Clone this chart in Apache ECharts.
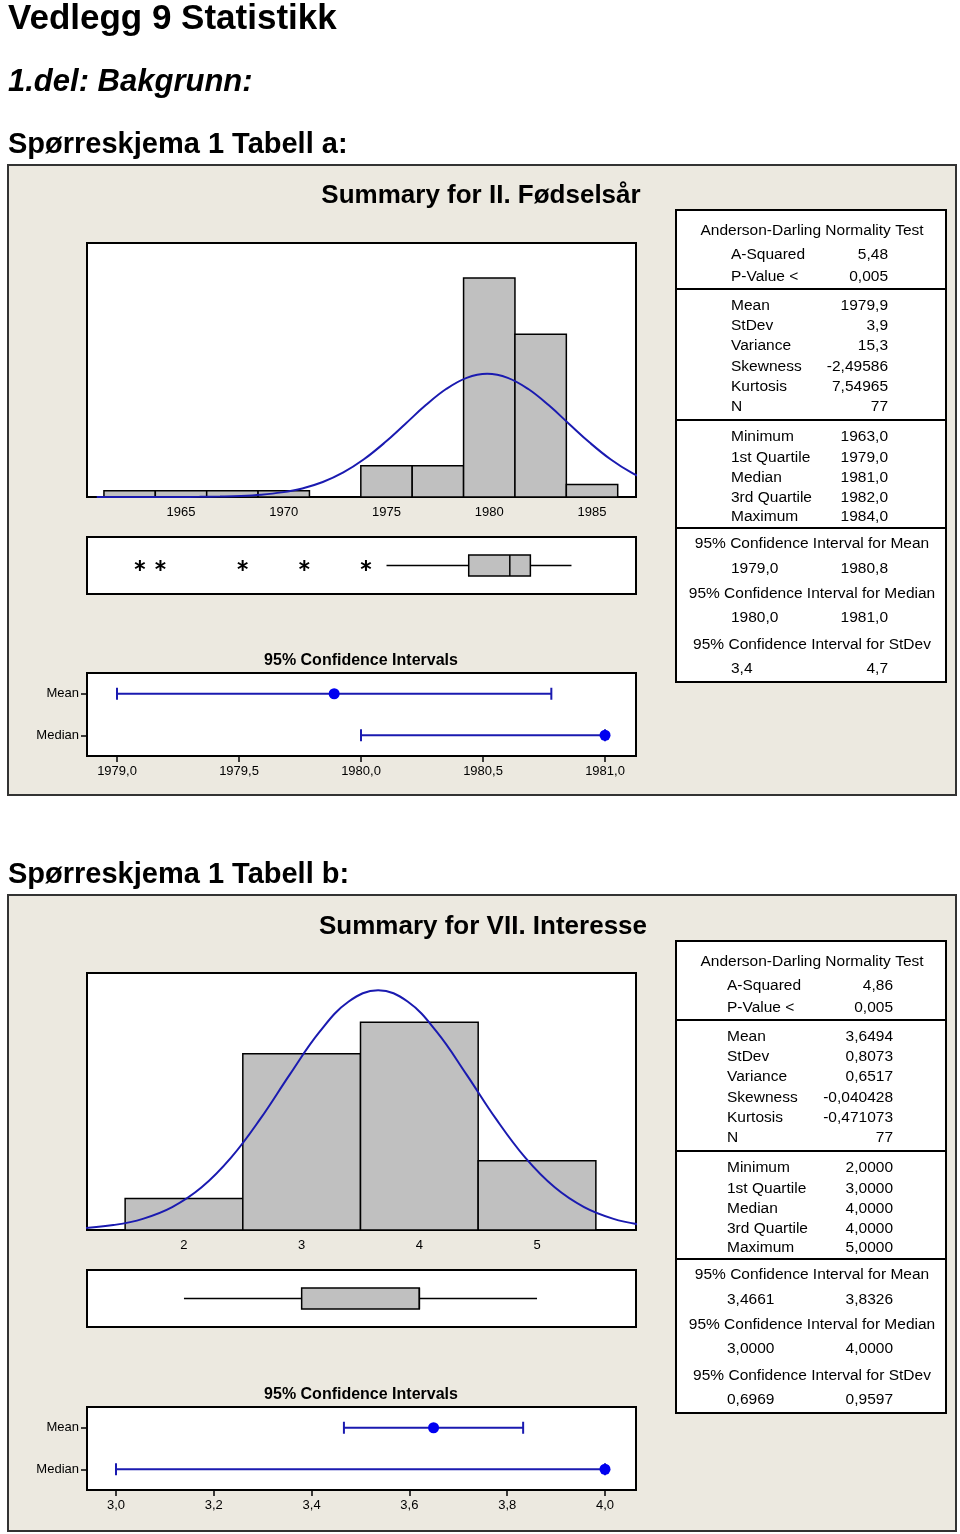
<!DOCTYPE html>
<html>
<head>
<meta charset="utf-8">
<title>Vedlegg 9 Statistikk</title>
<script src="https://cdn.jsdelivr.net/npm/echarts@6/dist/echarts.min.js"></script>
<style>
html, body { margin: 0; padding: 0; background: #fff; }
#main { width: 960px; height: 1534px; }
</style>
</head>
<body>
<div id="main"></div>
<script>
// ---- Tabell a: II. Fødselsår ----
var birthMids = [1962.5, 1965, 1967.5, 1970, 1972.5, 1975, 1977.5, 1980, 1982.5, 1985];
var birthCounts = [1, 1, 1, 1, 0, 5, 5, 35, 26, 2];
var birthBinWidth = 2.5;
// fitted normal curve
var birthCurveX = [1960.9, 1961.9, 1962.9, 1963.9, 1964.9, 1965.9, 1966.9, 1967.9, 1968.9, 1969.9,
                   1970.9, 1971.9, 1972.9, 1973.9, 1974.9, 1975.9, 1976.9, 1977.9, 1978.9, 1979.9,
                   1980.9, 1981.9, 1982.9, 1983.9, 1984.9, 1985.9, 1986.9, 1987.9];
var birthCurveY = [0, 0, 0, 0, 0.01, 0.03, 0.08, 0.17, 0.37, 0.74,
                   1.37, 2.4, 3.93, 6.03, 8.66, 11.64, 14.65, 17.26, 19.05, 19.69,
                   19.05, 17.26, 14.65, 11.64, 8.66, 6.03, 3.93, 2.4];
var birthBox = [1975, 1979, 1981, 1982, 1984];   // whisker lo, Q1, median, Q3, whisker hi
var birthOutliers = [1963, 1964, 1968, 1971, 1974];
var birthCI = [[1979.0, 1980.78, 1979.89], [1980.0, 1981.0, 1981.0]]; // lo, hi, estimate
var birthTicks = [1965, 1970, 1975, 1980, 1985];
var birthCITicks = [1979.0, 1979.5, 1980.0, 1980.5, 1981.0];

// ---- Tabell b: VII. Interesse ----
var intMids = [2, 3, 4, 5];
var intCounts = [5, 28, 33, 11];
var intBinWidth = 1;
var intCurveX = [1.15, 1.4, 1.65, 1.9, 2.15, 2.4, 2.65, 2.9, 3.15, 3.4, 3.65,
                 3.9, 4.15, 4.4, 4.65, 4.9, 5.15, 5.4, 5.65, 5.9];
var intCurveY = [0.31, 0.78, 1.77, 3.63, 6.77, 11.48, 17.67, 24.71, 31.41, 36.27, 38.05,
                 36.27, 31.41, 24.71, 17.67, 11.48, 6.77, 3.63, 1.77, 0.78];
var intBox = [2, 3, 4, 4, 5];
var intOutliers = [];
var intCI = [[3.4661, 3.8326, 3.6494], [3.0, 4.0, 4.0]];
var intTicks = [2, 3, 4, 5];
var intCITicks = [3.0, 3.2, 3.4, 3.6, 3.8, 4.0];

var ciRows = ['Mean', 'Median'];

var birthStats = {
    ad: [['A-Squared', '5,48'], ['P-Value <', '0,005']],
    desc: [['Mean', '1979,9'], ['StDev', '3,9'], ['Variance', '15,3'], ['Skewness', '-2,49586'], ['Kurtosis', '7,54965'], ['N', '77']],
    quart: [['Minimum', '1963,0'], ['1st Quartile', '1979,0'], ['Median', '1981,0'], ['3rd Quartile', '1982,0'], ['Maximum', '1984,0']],
    ci: [['1979,0', '1980,8'], ['1980,0', '1981,0'], ['3,4', '4,7']]
};
var intStats = {
    ad: [['A-Squared', '4,86'], ['P-Value <', '0,005']],
    desc: [['Mean', '3,6494'], ['StDev', '0,8073'], ['Variance', '0,6517'], ['Skewness', '-0,040428'], ['Kurtosis', '-0,471073'], ['N', '77']],
    quart: [['Minimum', '2,0000'], ['1st Quartile', '3,0000'], ['Median', '4,0000'], ['3rd Quartile', '4,0000'], ['Maximum', '5,0000']],
    ci: [['3,4661', '3,8326'], ['3,0000', '4,0000'], ['0,6969', '0,9597']]
};
var ciTitles = ['95% Confidence Interval for Mean', '95% Confidence Interval for Median', '95% Confidence Interval for StDev'];

var SANS = "'Liberation Sans', Arial, sans-serif";
var BLUE = '#1a1ab0';

function zip(a, b) {
    return a.map(function (v, i) { return [v, b[i]]; });
}

function histSeries(idx, mids, counts, w) {
    return {
        type: 'custom', xAxisIndex: idx, yAxisIndex: idx, z: 2,
        data: mids.map(function (m, i) { return [m - w / 2, m + w / 2, counts[i]]; }),
        renderItem: function (params, api) {
            if (!api.value(2)) return null;
            var p0 = api.coord([api.value(0), api.value(2)]);
            var p1 = api.coord([api.value(1), 0]);
            return {
                type: 'rect',
                shape: { x: p0[0], y: p0[1], width: p1[0] - p0[0], height: p1[1] - p0[1] },
                style: { fill: '#c0c0c0', stroke: '#000', lineWidth: 1.5 }
            };
        }
    };
}

function curveSeries(idx, xs, ys) {
    return {
        type: 'line', xAxisIndex: idx, yAxisIndex: idx, z: 3,
        data: zip(xs, ys), smooth: 0.4, symbol: 'none', clip: true,
        lineStyle: { color: BLUE, width: 2 }
    };
}

function boxSeries(idx, box) {
    return {
        type: 'custom', xAxisIndex: idx, yAxisIndex: idx,
        data: [box],
        renderItem: function (params, api) {
            var lo = api.coord([api.value(0), 0.5]);
            var q1 = api.coord([api.value(1), 0.5]);
            var md = api.coord([api.value(2), 0.5]);
            var q3 = api.coord([api.value(3), 0.5]);
            var hi = api.coord([api.value(4), 0.5]);
            var y = lo[1], h = 10.5;
            var ls = { stroke: '#000', lineWidth: 1.5 };
            return {
                type: 'group', children: [
                    { type: 'line', shape: { x1: lo[0], y1: y, x2: q1[0], y2: y }, style: ls },
                    { type: 'line', shape: { x1: q3[0], y1: y, x2: hi[0], y2: y }, style: ls },
                    { type: 'rect', shape: { x: q1[0], y: y - h, width: q3[0] - q1[0], height: 2 * h },
                      style: { fill: '#c0c0c0', stroke: '#000', lineWidth: 1.5 } },
                    { type: 'line', shape: { x1: md[0], y1: y - h, x2: md[0], y2: y + h }, style: ls }
                ]
            };
        }
    };
}

function outlierSeries(idx, vals) {
    return {
        type: 'custom', xAxisIndex: idx, yAxisIndex: idx,
        data: vals.map(function (v) { return [v]; }),
        renderItem: function (params, api) {
            var p = api.coord([api.value(0), 0.5]);
            var r = 5.5, cx = r * Math.cos(Math.PI / 6), sy = r * Math.sin(Math.PI / 6);
            var ls = { stroke: '#000', lineWidth: 2 };
            return {
                type: 'group', children: [
                    { type: 'line', shape: { x1: p[0], y1: p[1] - r, x2: p[0], y2: p[1] + r }, style: ls },
                    { type: 'line', shape: { x1: p[0] - cx, y1: p[1] - sy, x2: p[0] + cx, y2: p[1] + sy }, style: ls },
                    { type: 'line', shape: { x1: p[0] - cx, y1: p[1] + sy, x2: p[0] + cx, y2: p[1] - sy }, style: ls }
                ]
            };
        }
    };
}

function ciSeries(idx, ci) {
    return {
        type: 'custom', xAxisIndex: idx, yAxisIndex: idx,
        data: ci.map(function (c, i) { return [c[0], c[1], c[2], i]; }),
        renderItem: function (params, api) {
            var row = api.value(3);
            var a = api.coord([api.value(0), row]);
            var b = api.coord([api.value(1), row]);
            var e = api.coord([api.value(2), row]);
            var ls = { stroke: BLUE, lineWidth: 2 };
            return {
                type: 'group', children: [
                    { type: 'line', shape: { x1: a[0], y1: a[1], x2: b[0], y2: b[1] }, style: ls },
                    { type: 'line', shape: { x1: a[0], y1: a[1] - 6, x2: a[0], y2: a[1] + 6 }, style: ls },
                    { type: 'line', shape: { x1: b[0], y1: b[1] - 6, x2: b[0], y2: b[1] + 6 }, style: ls },
                    { type: 'circle', shape: { cx: e[0], cy: e[1], r: 5.5 }, style: { fill: '#0000f0' } }
                ]
            };
        }
    };
}

function grid(top, height) {
    return { left: 87, top: top, width: 549, height: height, show: true,
             backgroundColor: '#fff', borderColor: '#000', borderWidth: 2 };
}

function valueX(idx, min, max, ticks, showLabels, ciStyle) {
    return {
        gridIndex: idx, type: 'value', min: min, max: max,
        axisLine: { show: false }, splitLine: { show: false },
        axisTick: ciStyle ? { show: true, length: 6, customValues: ticks, lineStyle: { color: '#000', width: 1.5 } } : { show: false },
        axisLabel: {
            show: showLabels, customValues: ticks, margin: 9,
            fontSize: 13, color: '#000', fontFamily: SANS,
            formatter: ciStyle ? function (v) { return v.toFixed(1).replace('.', ','); }
                               : function (v) { return String(v); }
        }
    };
}

function hiddenY(idx, max) {
    return { gridIndex: idx, type: 'value', min: 0, max: max, show: false, splitLine: { show: false } };
}

function ciY(idx) {
    return {
        gridIndex: idx, type: 'category', data: ciRows, inverse: true,
        axisLine: { show: false },
        axisTick: { show: true, alignWithLabel: true, length: 6, lineStyle: { color: '#000', width: 1.5 } },
        axisLabel: { margin: 8, fontSize: 13, color: '#000', fontFamily: SANS }
    };
}

function txt(x, y, s, font, align) {
    return { type: 'text', z: 20, style: { x: x, y: y, text: s, font: font, fill: '#000',
             align: align || 'left', verticalAlign: 'middle' } };
}
function hline(y, x1, x2) {
    return { type: 'line', z: 20, shape: { x1: x1, y1: y, x2: x2, y2: y }, style: { stroke: '#000', lineWidth: 2 } };
}

function statTable(top, lx, vx, st) {
    var f = '15.5px ' + SANS;
    var els = [];
    els.push({ type: 'rect', z: 19, shape: { x: 676, y: top, width: 270, height: 472 },
               style: { fill: '#fff', stroke: '#000', lineWidth: 2 } });
    els.push(txt(812, top + 21, 'Anderson-Darling Normality Test', f, 'center'));
    var rowsAd = [45, 67], rowsDesc = [96, 116, 136, 157, 177, 197], rowsQ = [227, 248, 268, 288, 307];
    st.ad.forEach(function (r, i) { els.push(txt(lx, top + rowsAd[i], r[0], f)); els.push(txt(vx, top + rowsAd[i], r[1], f, 'right')); });
    st.desc.forEach(function (r, i) { els.push(txt(lx, top + rowsDesc[i], r[0], f)); els.push(txt(vx, top + rowsDesc[i], r[1], f, 'right')); });
    st.quart.forEach(function (r, i) { els.push(txt(lx, top + rowsQ[i], r[0], f)); els.push(txt(vx, top + rowsQ[i], r[1], f, 'right')); });
    els.push(hline(top + 79, 676, 946));
    els.push(hline(top + 210, 676, 946));
    els.push(hline(top + 318, 676, 946));
    var hdr = [334, 384, 435], vals = [359, 408, 459];
    st.ci.forEach(function (r, i) {
        els.push(txt(812, top + hdr[i], ciTitles[i], f, 'center'));
        els.push(txt(lx, top + vals[i], r[0], f));
        els.push(txt(vx, top + vals[i], r[1], f, 'right'));
    });
    return els;
}

var graphics = [
    { type: 'rect', z: -10, shape: { x: 8, y: 165, width: 948, height: 630 }, style: { fill: '#ece9e0', stroke: '#333', lineWidth: 2 } },
    { type: 'rect', z: -10, shape: { x: 8, y: 895, width: 948, height: 636 }, style: { fill: '#ece9e0', stroke: '#333', lineWidth: 2 } },
    txt(8, 19, 'Vedlegg 9 Statistikk', 'bold 35px ' + SANS),
    txt(8, 82, '1.del: Bakgrunn:', 'italic bold 31px ' + SANS),
    txt(8, 145, 'Spørreskjema 1 Tabell a:', 'bold 29px ' + SANS),
    txt(8, 875, 'Spørreskjema 1 Tabell b:', 'bold 29px ' + SANS),
    txt(481, 196, 'Summary for II. Fødselsår', 'bold 26px ' + SANS, 'center'),
    txt(483, 927, 'Summary for VII. Interesse', 'bold 26px ' + SANS, 'center'),
    txt(361, 661, '95% Confidence Intervals', 'bold 16px ' + SANS, 'center'),
    txt(361, 1395, '95% Confidence Intervals', 'bold 16px ' + SANS, 'center')
].concat(statTable(210, 731, 888, birthStats)).concat(statTable(941, 727, 893, intStats));

var option = {
    animation: false,
    backgroundColor: '#fff',
    grid: [grid(243, 254), grid(537, 57), grid(673, 83), grid(973, 257), grid(1270, 57), grid(1407, 83)],
    xAxis: [
        valueX(0, 1960.426, 1987.14, birthTicks, true, false),
        valueX(1, 1960.426, 1987.14, birthTicks, false, false),
        valueX(2, 1978.877, 1981.127, birthCITicks, true, true),
        valueX(3, 1.176, 5.841, intTicks, true, false),
        valueX(4, 1.176, 5.841, intTicks, false, false),
        valueX(5, 2.9407, 4.0634, intCITicks, true, true)
    ],
    yAxis: [hiddenY(0, 40.6), hiddenY(1, 1), ciY(2), hiddenY(3, 40.8), hiddenY(4, 1), ciY(5)],
    graphic: graphics,
    series: [
        histSeries(0, birthMids, birthCounts, birthBinWidth),
        curveSeries(0, birthCurveX, birthCurveY),
        boxSeries(1, birthBox),
        outlierSeries(1, birthOutliers),
        ciSeries(2, birthCI),
        histSeries(3, intMids, intCounts, intBinWidth),
        curveSeries(3, intCurveX, intCurveY),
        boxSeries(4, intBox),
        outlierSeries(4, intOutliers),
        ciSeries(5, intCI)
    ]
};

var chart = echarts.init(document.getElementById('main'));
chart.setOption(option);
</script>
</body>
</html>
